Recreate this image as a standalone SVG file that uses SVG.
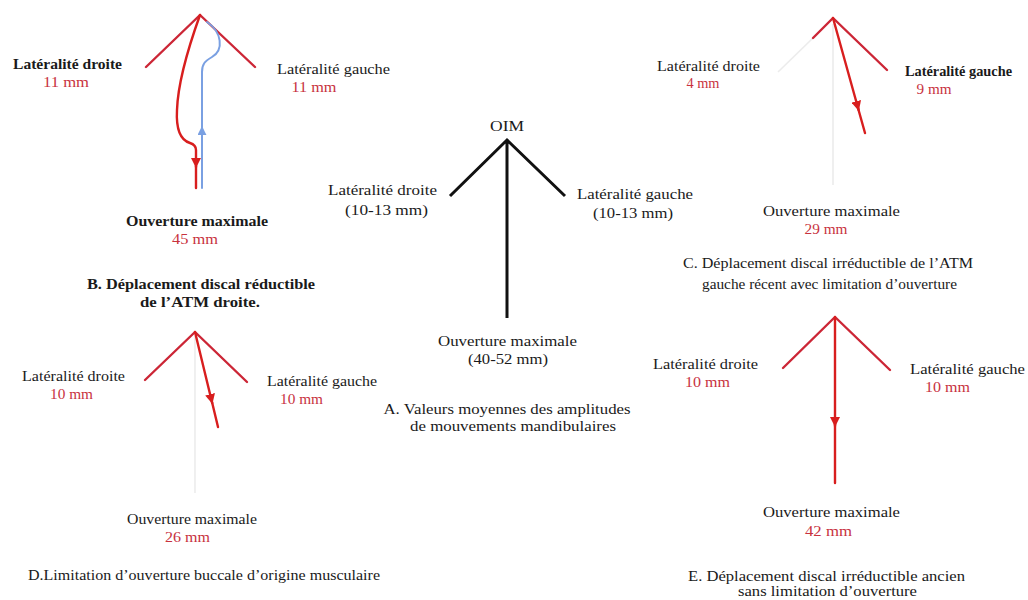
<svg xmlns="http://www.w3.org/2000/svg" width="1028" height="600" viewBox="0 0 1028 600">
<style>
text{font-family:"Liberation Serif","Times New Roman",serif;font-size:15px;fill:#1a1a1a;text-anchor:middle}
.r{fill:#c8323e}
.b{font-weight:bold}
.arm{fill:none;stroke:#cc2636;stroke-width:2.4;stroke-linecap:round;stroke-linejoin:round}
.blk{fill:none;stroke:#111;stroke-width:3;stroke-linecap:butt;stroke-linejoin:miter}
.mv{fill:none;stroke:#d81e1e;stroke-width:2.4;stroke-linecap:round;stroke-linejoin:round}
.bl{fill:none;stroke:#7aa0e2;stroke-width:2;stroke-linecap:round}
.fa{fill:none;stroke:#ececec;stroke-width:1.6}
</style>
<defs>
<marker id="ar" viewBox="0 0 10 10" refX="9" refY="5" markerUnits="userSpaceOnUse" markerWidth="10" markerHeight="10" orient="auto"><path d="M0,0 L10,5 L0,10 z" fill="#d81e1e"/></marker>
<marker id="ab" viewBox="0 0 10 10" refX="9" refY="5" markerUnits="userSpaceOnUse" markerWidth="9" markerHeight="9" orient="auto"><path d="M0,0 L10,5 L0,10 z" fill="#7aa0e2"/></marker>
</defs>
<rect width="1028" height="600" fill="#fff"/>
<g id="connectors">
<!-- B -->
<path class="arm" d="M146,67 L200,15 L255,67"/>
<path class="bl" d="M207,22 C222,32 224,50 212,57 C205,61 202,64 202,72 L202,128"/>
<path class="bl" d="M202,188 L202,127" marker-end="url(#ab)"/>
<path class="mv" d="M200,15 C191,40 178,80 177,110 C176,128 180,140 190,143 Q196,145 196,150 L196,167" marker-end="url(#ar)"/>
<path class="mv" d="M196,166 L196,188"/>
<!-- A -->
<path class="blk" d="M450,196 L507,140 L565,196 M507,140 L507,318"/>
<!-- C -->
<path class="fa" d="M813,38 L778,72 M833,24 L833,185"/>
<path class="arm" d="M813,38 L833,18 L887,70"/>
<path class="mv" d="M833,18 L858.6,110" marker-end="url(#ar)"/>
<path class="mv" d="M858,108 L865,133"/>
<!-- D -->
<path class="fa" d="M195,336 L195,493"/>
<path class="arm" d="M145,380 L195,332 L247,382"/>
<path class="mv" d="M195,332 L212.2,403" marker-end="url(#ar)"/>
<path class="mv" d="M212,402 L218,427"/>
<!-- E -->
<path class="arm" d="M783,368 L835,317 L890,370"/>
<path class="mv" d="M835,317 L835,426" marker-end="url(#ar)"/>
<path class="mv" d="M835,424 L835,483"/>
</g>
<g id="panelB">
<text class="b" x="67.5" y="69" textLength="109" lengthAdjust="spacingAndGlyphs">Latéralité droite</text>
<text class="r" x="66" y="87" textLength="46" lengthAdjust="spacingAndGlyphs">11 mm</text>
<text x="333.5" y="74" textLength="113" lengthAdjust="spacingAndGlyphs">Latéralité gauche</text>
<text class="r" x="314" y="92" textLength="45" lengthAdjust="spacingAndGlyphs">11 mm</text>
<text class="b" x="197" y="226" textLength="142" lengthAdjust="spacingAndGlyphs">Ouverture maximale</text>
<text class="r" x="195" y="244" textLength="46" lengthAdjust="spacingAndGlyphs">45 mm</text>
<text class="b" x="201" y="289" textLength="228" lengthAdjust="spacingAndGlyphs">B. Déplacement discal réductible</text>
<text class="b" x="200" y="307" textLength="120" lengthAdjust="spacingAndGlyphs">de l’ATM droite.</text>
</g>
<g id="panelA">
<text x="507" y="131" textLength="34" lengthAdjust="spacingAndGlyphs">OIM</text>
<text x="382.5" y="195" textLength="109" lengthAdjust="spacingAndGlyphs">Latéralité droite</text>
<text x="386.5" y="215" textLength="83" lengthAdjust="spacingAndGlyphs">(10-13 mm)</text>
<text x="635" y="199" textLength="116" lengthAdjust="spacingAndGlyphs">Latéralité gauche</text>
<text x="633" y="218" textLength="80" lengthAdjust="spacingAndGlyphs">(10-13 mm)</text>
<text x="507.5" y="346" textLength="139" lengthAdjust="spacingAndGlyphs">Ouverture maximale</text>
<text x="508" y="364" textLength="80" lengthAdjust="spacingAndGlyphs">(40-52 mm)</text>
<text x="507" y="414" textLength="247" lengthAdjust="spacingAndGlyphs">A. Valeurs moyennes des amplitudes</text>
<text x="513" y="431" textLength="206" lengthAdjust="spacingAndGlyphs">de mouvements mandibulaires</text>
</g>
<g id="panelC">
<text x="708.5" y="71" textLength="103" lengthAdjust="spacingAndGlyphs">Latéralité droite</text>
<text class="r" x="703" y="88" textLength="33" lengthAdjust="spacingAndGlyphs">4 mm</text>
<text class="b" x="958.5" y="76" textLength="107" lengthAdjust="spacingAndGlyphs">Latéralité gauche</text>
<text class="r" x="934" y="94" textLength="35" lengthAdjust="spacingAndGlyphs">9 mm</text>
<text x="831.5" y="216" textLength="137" lengthAdjust="spacingAndGlyphs">Ouverture maximale</text>
<text class="r" x="826" y="234" textLength="43" lengthAdjust="spacingAndGlyphs">29 mm</text>
<text x="828" y="268" textLength="290" lengthAdjust="spacingAndGlyphs">C. Déplacement discal irréductible de l’ATM</text>
<text x="829.5" y="289" textLength="255" lengthAdjust="spacingAndGlyphs">gauche récent avec limitation d’ouverture</text>
</g>
<g id="panelD">
<text x="73.5" y="381" textLength="103" lengthAdjust="spacingAndGlyphs">Latéralité droite</text>
<text class="r" x="71.5" y="399" textLength="43" lengthAdjust="spacingAndGlyphs">10 mm</text>
<text x="322" y="386" textLength="110" lengthAdjust="spacingAndGlyphs">Latéralité gauche</text>
<text class="r" x="301.5" y="404" textLength="43" lengthAdjust="spacingAndGlyphs">10 mm</text>
<text x="192" y="524" textLength="130" lengthAdjust="spacingAndGlyphs">Ouverture maximale</text>
<text class="r" x="187.5" y="542" textLength="45" lengthAdjust="spacingAndGlyphs">26 mm</text>
<text x="204" y="580" textLength="352" lengthAdjust="spacingAndGlyphs">D.Limitation d’ouverture buccale d’origine musculaire</text>
</g>
<g id="panelE">
<text x="705.5" y="369" textLength="105" lengthAdjust="spacingAndGlyphs">Latéralité droite</text>
<text class="r" x="707.5" y="387" textLength="45" lengthAdjust="spacingAndGlyphs">10 mm</text>
<text x="967.5" y="374" textLength="115" lengthAdjust="spacingAndGlyphs">Latéralité gauche</text>
<text class="r" x="947.5" y="392" textLength="45" lengthAdjust="spacingAndGlyphs">10 mm</text>
<text x="831.5" y="517" textLength="137" lengthAdjust="spacingAndGlyphs">Ouverture maximale</text>
<text class="r" x="828.5" y="536" textLength="47" lengthAdjust="spacingAndGlyphs">42 mm</text>
<text x="826.5" y="581" textLength="277" lengthAdjust="spacingAndGlyphs">E. Déplacement discal irréductible ancien</text>
<text x="827.5" y="596" textLength="179" lengthAdjust="spacingAndGlyphs">sans limitation d’ouverture</text>
</g>
</svg>
